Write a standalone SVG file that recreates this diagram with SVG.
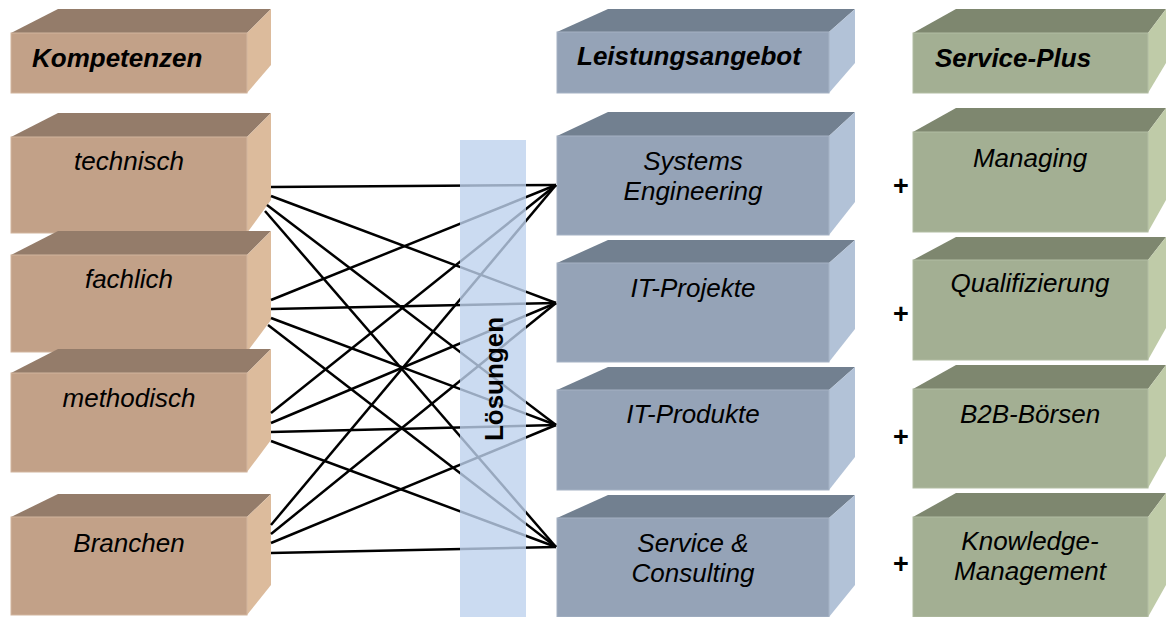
<svg xmlns="http://www.w3.org/2000/svg" width="1166" height="617" viewBox="0 0 1166 617">
<style>
.bf{fill:#c2a188;stroke:#d2b59e;stroke-width:1}
.bt{fill:#947c6a}
.bs{fill:#dcbb9c}
.lf{fill:#95a3b7;stroke:#a5b2c4;stroke-width:1}
.lt{fill:#728090}
.ls{fill:#b2c2d7}
.gf{fill:#a3af93;stroke:#b2bda3;stroke-width:1}
.gt{fill:#7e876f}
.gs{fill:#bfcba8}
text{font-family:"Liberation Sans",Arial,sans-serif;font-size:26px;fill:#000}
.t{font-style:italic;text-anchor:middle}
.h{font-style:italic;font-weight:bold}
.p{font-weight:bold;font-size:27px;text-anchor:middle}
.c line{stroke:#000;stroke-width:2.5}
</style>
<rect width="1166" height="617" fill="#fff"/>

<!-- Left column -->
<g id="kompetenzen">
<polygon class="bt" points="11,33 58,9 271,9 247,33"/>
<polygon class="bs" points="247,33 271,9 271,65 247,93"/>
<rect class="bf" x="11" y="33" width="236" height="60"/>
<text class="h" x="32" y="67">Kompetenzen</text>
</g>
<g id="technisch">
<polygon class="bt" points="11,137 58,113 271,113 247,137"/>
<polygon class="bs" points="247,137 271,113 271,200 247,233"/>
<rect class="bf" x="11" y="137" width="236" height="96"/>
<text class="t" x="129" y="170">technisch</text>
</g>
<g id="fachlich">
<polygon class="bt" points="11,255 58,231 271,231 247,255"/>
<polygon class="bs" points="247,255 271,231 271,320 247,352"/>
<rect class="bf" x="11" y="255" width="236" height="97"/>
<text class="t" x="129" y="288">fachlich</text>
</g>
<g id="methodisch">
<polygon class="bt" points="11,373 58,349 271,349 247,373"/>
<polygon class="bs" points="247,373 271,349 271,440 247,472"/>
<rect class="bf" x="11" y="373" width="236" height="99"/>
<text class="t" x="129" y="407">methodisch</text>
</g>
<g id="branchen">
<polygon class="bt" points="11,517 58,494 271,494 247,517"/>
<polygon class="bs" points="247,517 271,494 271,585 247,615"/>
<rect class="bf" x="11" y="517" width="236" height="98"/>
<text class="t" x="129" y="552">Branchen</text>
</g>

<!-- Middle column -->
<g id="leistungsangebot">
<polygon class="lt" points="557,32 608,9 855,9 829,32"/>
<polygon class="ls" points="829,32 855,9 855,63 829,93"/>
<rect class="lf" x="557" y="32" width="272" height="61"/>
<text class="h" x="577" y="65">Leistungsangebot</text>
</g>
<g id="systems-engineering">
<polygon class="lt" points="557,136 608,112 855,112 829,136"/>
<polygon class="ls" points="829,136 855,112 855,202 829,235"/>
<rect class="lf" x="557" y="136" width="272" height="99"/>
<text class="t" x="693" y="170">Systems</text>
<text class="t" x="693" y="200">Engineering</text>
</g>
<g id="it-projekte">
<polygon class="lt" points="557,263 608,240 855,240 829,263"/>
<polygon class="ls" points="829,263 855,240 855,329 829,362"/>
<rect class="lf" x="557" y="263" width="272" height="99"/>
<text class="t" x="693" y="297">IT-Projekte</text>
</g>
<g id="it-produkte">
<polygon class="lt" points="557,390 608,367 855,367 829,390"/>
<polygon class="ls" points="829,390 855,367 855,457 829,490"/>
<rect class="lf" x="557" y="390" width="272" height="100"/>
<text class="t" x="693" y="423">IT-Produkte</text>
</g>
<g id="service-consulting">
<polygon class="lt" points="557,518 608,495 855,495 829,518"/>
<polygon class="ls" points="829,518 855,495 855,585 829,617"/>
<rect class="lf" x="557" y="518" width="272" height="99"/>
<text class="t" x="693" y="552">Service &amp;</text>
<text class="t" x="693" y="582">Consulting</text>
</g>

<!-- Right column -->
<g id="service-plus">
<polygon class="gt" points="913,33 956,9 1166,9 1148,33"/>
<polygon class="gs" points="1148,33 1166,9 1166,63 1148,93"/>
<rect class="gf" x="913" y="33" width="235" height="60"/>
<text class="h" x="935" y="67">Service-Plus</text>
</g>
<g id="managing">
<polygon class="gt" points="913,132 956,108 1166,108 1148,132"/>
<polygon class="gs" points="1148,132 1166,108 1166,200 1148,232"/>
<rect class="gf" x="913" y="132" width="235" height="100"/>
<text class="t" x="1030" y="167">Managing</text>
<text class="p" x="901" y="195">+</text>
</g>
<g id="qualifizierung">
<polygon class="gt" points="913,260 956,237 1166,237 1148,260"/>
<polygon class="gs" points="1148,260 1166,237 1166,328 1148,360"/>
<rect class="gf" x="913" y="260" width="235" height="100"/>
<text class="t" x="1030" y="292">Qualifizierung</text>
<text class="p" x="901" y="323">+</text>
</g>
<g id="b2b-boersen">
<polygon class="gt" points="913,389 956,365 1166,365 1148,389"/>
<polygon class="gs" points="1148,389 1166,365 1166,456 1148,488"/>
<rect class="gf" x="913" y="389" width="235" height="99"/>
<text class="t" x="1030" y="423">B2B-Börsen</text>
<text class="p" x="901" y="446">+</text>
</g>
<g id="knowledge-management">
<polygon class="gt" points="913,517 956,493 1166,493 1148,517"/>
<polygon class="gs" points="1148,517 1166,493 1166,585 1148,617"/>
<rect class="gf" x="913" y="517" width="235" height="100"/>
<text class="t" x="1030" y="550">Knowledge-</text>
<text class="t" x="1030" y="580">Management</text>
<text class="p" x="901" y="573">+</text>
</g>

<!-- Connectors -->
<g id="connectors" class="c">
<line x1="271" y1="187" x2="556" y2="185"/>
<line x1="271" y1="196" x2="556" y2="303"/>
<line x1="267" y1="205" x2="556" y2="425"/>
<line x1="265" y1="211" x2="556" y2="547"/>
<line x1="271" y1="300" x2="556" y2="185"/>
<line x1="271" y1="309" x2="556" y2="303"/>
<line x1="271" y1="318" x2="556" y2="425"/>
<line x1="268" y1="325" x2="556" y2="547"/>
<line x1="271" y1="413" x2="556" y2="185"/>
<line x1="271" y1="423" x2="556" y2="303"/>
<line x1="271" y1="432" x2="556" y2="425"/>
<line x1="271" y1="441" x2="556" y2="547"/>
<line x1="271" y1="525" x2="556" y2="185"/>
<line x1="271" y1="534" x2="556" y2="303"/>
<line x1="271" y1="543" x2="556" y2="425"/>
<line x1="271" y1="553" x2="556" y2="547"/>
</g>

<!-- Lösungen bar -->
<g id="loesungen">
<rect x="460" y="140" width="66" height="477" fill="#bed2ed" fill-opacity="0.8"/>
<text x="0" y="0" font-weight="bold" text-anchor="middle" transform="translate(503,379) rotate(-90)">Lösungen</text>
</g>
</svg>
